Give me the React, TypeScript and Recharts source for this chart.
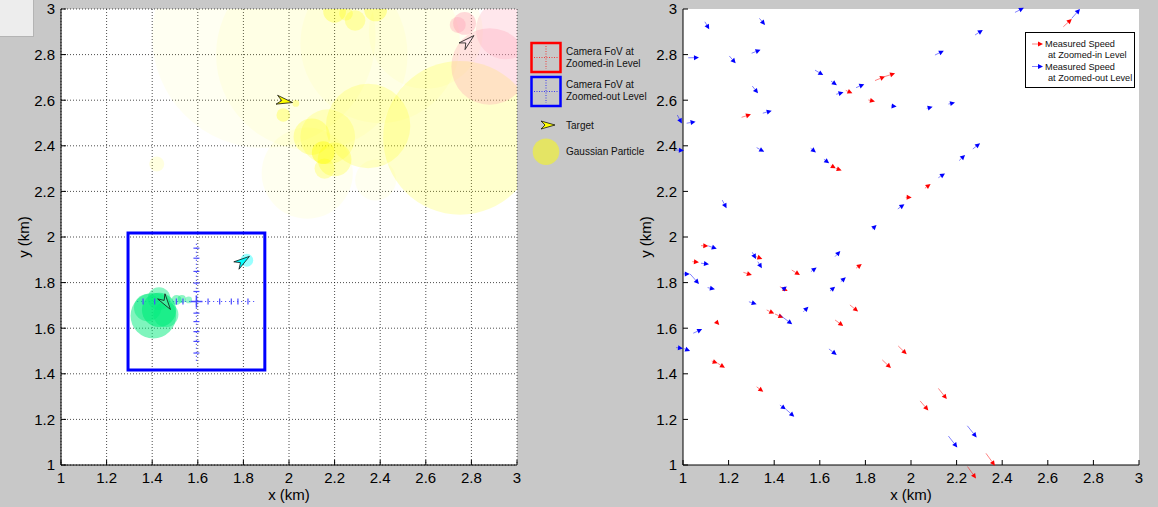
import React from "react";
import {
  ScatterChart,
  Scatter,
  XAxis,
  YAxis,
  CartesianGrid,
  ReferenceArea,
  ReferenceLine,
  Legend,
} from "recharts";

const TICKS = [1, 1.2, 1.4, 1.6, 1.8, 2, 2.2, 2.4, 2.6, 2.8, 3];
const DOMAIN: [number, number] = [1, 3];

// particles: [x (km), y (km), radius (km), weight]
const YELLOW_PARTICLES = [
  [1.89, 2.88, 0.49, 0.05],
  [2.1, 2.8, 0.42, 0.05],
  [2.4, 2.85, 0.35, 0.05],
  [2.6, 2.9, 0.25, 0.05],
  [2.08, 2.28, 0.2, 0.06],
  [2.38, 2.25, 0.09, 0.06],
  [2.75, 2.435, 0.337, 0.2],
  [2.347, 2.487, 0.185, 0.2],
  [2.17, 2.44, 0.12, 0.18],
  [2.1, 2.44, 0.08, 0.25],
  [2.2, 2.34, 0.074, 0.25],
  [2.156, 2.3, 0.044, 0.25],
  [2.15, 2.37, 0.05, 0.4],
  [2.2, 2.99, 0.05, 0.3],
  [2.29, 2.95, 0.045, 0.25],
  [2.38, 2.996, 0.05, 0.3],
  [2.25, 2.98, 0.03, 0.25],
  [1.975, 2.535, 0.03, 0.3],
  [2.03, 2.586, 0.015, 0.3],
  [1.42, 2.32, 0.033, 0.12],
];
const PINK_PARTICLES = [
  [2.88, 2.748, 0.168, 0.3],
  [2.95, 2.91, 0.13, 0.25],
  [2.77, 2.937, 0.05, 0.4],
  [2.74, 2.93, 0.035, 0.35],
];
const GREEN_PARTICLES = [
  [1.405, 1.655, 0.1, 0.5],
  [1.43, 1.68, 0.075, 0.6],
  [1.43, 1.73, 0.05, 0.45],
  [1.46, 1.66, 0.055, 0.45],
  [1.38, 1.69, 0.06, 0.45],
  [1.507, 1.724, 0.022, 0.45],
  [1.53, 1.728, 0.018, 0.45],
  [1.56, 1.724, 0.015, 0.4],
];
const CYAN_PARTICLES = [[1.815, 1.898, 0.028, 0.4]];

// targets: [x, y, heading (deg)]
const TARGET_YELLOW = [1.981, 2.596, -10];
const TARGET_PINK = [2.785, 2.86, 42];
const TARGET_CYAN = [1.798, 1.895, 35];
const TARGET_GREEN = [1.46, 1.711, -55];

// zoomed-out camera field of view
const FOV_CENTER = [1.594, 1.717];
const FOV_SIZE = 0.6;
const FOV_CROSS_HALF = 0.26;
const FOV_TICKS_X = [-0.234, -0.183, -0.088, -0.059, 0.051, 0.102, 0.153, 0.182, 0.226];
const FOV_TICKS_Y = [0.234, 0.19, 0.132, 0.081, 0.044, -0.051, -0.088, -0.132, -0.175, -0.226];

// measured speeds: [x, y, u, v] (km)
const RED_ARROWS = [
  [1.257, 2.525, 0.041, 0.013],
  [1.648, 2.314, 0.022, -0.013],
  [1.671, 2.301, 0.025, -0.009],
  [1.714, 2.643, 0.029, -0.013],
  [1.842, 2.686, 0.044, 0.018],
  [1.883, 2.703, 0.047, 0.015],
  [1.813, 2.601, 0.029, -0.007],
  [1.977, 2.174, 0.026, -0.001],
  [2.668, 2.922, 0.037, 0.034],
  [2.061, 2.214, 0.025, 0.018],
  [1.079, 1.962, 0.032, -0.001],
  [1.041, 1.892, 0.029, -0.003],
  [1.32, 1.914, 0.028, -0.01],
  [1.265, 1.845, 0.037, -0.012],
  [1.477, 1.855, 0.036, -0.022],
  [1.759, 1.863, 0.025, 0.019],
  [1.425, 1.782, 0.034, -0.019],
  [1.367, 1.68, 0.033, -0.016],
  [1.404, 1.662, 0.036, -0.016],
  [1.732, 1.702, 0.036, -0.029],
  [1.667, 1.636, 0.036, -0.026],
  [1.148, 1.626, 0.011, -0.012],
  [1.126, 1.456, 0.026, -0.01],
  [1.152, 1.446, 0.032, -0.019],
  [1.874, 1.461, 0.038, -0.036],
  [1.944, 1.522, 0.037, -0.036],
  [1.323, 1.343, 0.029, -0.022],
  [2.12, 1.336, 0.037, -0.047],
  [2.04, 1.281, 0.036, -0.042],
  [2.329, 1.051, 0.039, -0.054],
  [2.248, 0.993, 0.037, -0.052],
];
const BLUE_ARROWS = [
  [1.096, 2.944, 0.019, -0.033],
  [1.335, 2.959, 0.025, -0.029],
  [1.023, 2.786, 0.047, 0.001],
  [1.203, 2.794, 0.028, -0.032],
  [1.301, 2.806, 0.039, 0.015],
  [1.304, 2.662, 0.025, -0.032],
  [1.35, 2.543, 0.039, 0.011],
  [0.975, 2.535, 0.02, -0.037],
  [1.016, 2.499, 0.039, 0.007],
  [0.968, 2.382, 0.036, -0.003],
  [1.323, 2.392, 0.033, -0.018],
  [1.56, 2.389, 0.023, -0.018],
  [1.618, 2.341, 0.023, -0.018],
  [1.579, 2.732, 0.036, -0.022],
  [1.649, 2.684, 0.026, -0.018],
  [1.672, 2.626, 0.032, 0.009],
  [1.759, 2.655, 0.036, 0.015],
  [1.912, 2.575, 0.025, -0.003],
  [1.172, 2.162, 0.019, -0.036],
  [1.942, 2.123, 0.029, 0.021],
  [1.83, 2.035, 0.019, 0.018],
  [2.456, 2.985, 0.039, 0.02],
  [2.705, 2.959, 0.036, 0.041],
  [2.281, 2.886, 0.034, 0.022],
  [2.105, 2.798, 0.039, 0.019],
  [2.069, 2.564, 0.026, 0.007],
  [2.164, 2.583, 0.029, 0.007],
  [2.271, 2.386, 0.032, 0.025],
  [2.211, 2.335, 0.026, 0.025],
  [2.12, 2.26, 0.029, 0.019],
  [1.111, 1.961, 0.037, -0.013],
  [1.079, 1.885, 0.035, -0.004],
  [1.001, 1.838, 0.029, 0],
  [1.031, 1.838, 0.039, -0.044],
  [1.108, 1.778, 0.032, -0.007],
  [1.304, 1.933, 0.016, -0.029],
  [1.328, 1.892, 0.018, -0.029],
  [1.561, 1.848, 0.025, 0.018],
  [1.667, 1.914, 0.023, 0.025],
  [1.692, 1.804, 0.022, 0.019],
  [1.645, 1.763, 0.022, 0.019],
  [1.436, 1.768, 0.019, 0.015],
  [1.289, 1.716, 0.034, -0.011],
  [1.421, 1.661, 0.058, -0.044],
  [1.528, 1.672, 0.022, 0.022],
  [1.045, 1.578, 0.039, 0.018],
  [0.97, 1.515, 0.03, -0.004],
  [1.005, 1.51, 0.026, -0.01],
  [1.64, 1.509, 0.034, -0.026],
  [1.425, 1.263, 0.026, -0.019],
  [1.452, 1.244, 0.036, -0.032],
  [2.247, 1.172, 0.041, -0.051],
  [2.164, 1.127, 0.039, -0.05],
];

// chart geometry
const W = 530;
const H = 507;
const MARGIN = { top: 9, right: 13, bottom: 2, left: 11 };
const Y_AXIS_W = 50;
const X_AXIS_H = 40;
const PX_PER_KM = (W - MARGIN.left - MARGIN.right - Y_AXIS_W) / (DOMAIN[1] - DOMAIN[0]);

const FONT = "'Liberation Sans', Arial, Helvetica, sans-serif";
const TICK_STYLE = { fill: "#000", fontSize: 15 };

const toParticles = (rows: number[][]) => rows.map(([x, y, r, w]) => ({ x, y, r, w }));
const toArrows = (rows: number[][]) => rows.map(([x, y, u, v]) => ({ x, y, u, v }));
const toTarget = ([x, y, heading]: number[]) => [{ x, y, heading }];

const fovTicks = [
  ...FOV_TICKS_X.map((d) => ({ x: FOV_CENTER[0] + d, y: FOV_CENTER[1], vertical: true })),
  ...FOV_TICKS_Y.map((d) => ({ x: FOV_CENTER[0], y: FOV_CENTER[1] + d, vertical: false })),
];

const particleShape = (fill: string) => (p: any) =>
  <circle cx={p.cx} cy={p.cy} r={p.payload.r * PX_PER_KM} fill={fill} fillOpacity={p.payload.w} />;

const dartShape = (fill: string, fillOpacity = 1) => (p: any) => {
  const a = (p.payload.heading * Math.PI) / 180;
  const c = Math.cos(a);
  const s = Math.sin(a);
  const pts = [[8, 0], [-8, -4.5], [-3, 0], [-8, 4.5]]
    .map(([u, v]) => `${p.cx + u * c + v * s},${p.cy - u * s + v * c}`)
    .join(" ");
  return <polygon points={pts} fill={fill} fillOpacity={fillOpacity} stroke="#111" strokeWidth={0.8} />;
};

const FovTick = (p: any) =>
  p.payload.vertical ? (
    <line x1={p.cx} x2={p.cx} y1={p.cy - 3} y2={p.cy + 3} stroke="#4a4aff" strokeWidth={1.2} />
  ) : (
    <line x1={p.cx - 3} x2={p.cx + 3} y1={p.cy} y2={p.cy} stroke="#4a4aff" strokeWidth={1.2} />
  );

const FovCenter = (p: any) => (
  <g stroke="#4a4aff" strokeWidth={1.5}>
    <line x1={p.cx - 6} x2={p.cx + 6} y1={p.cy} y2={p.cy} />
    <line x1={p.cx} x2={p.cx} y1={p.cy - 6} y2={p.cy + 6} />
  </g>
);

const arrowPath = (x0: number, y0: number, x1: number, y1: number, color: string) => {
  const ang = Math.atan2(y1 - y0, x1 - x0);
  const c = Math.cos(ang);
  const s = Math.sin(ang);
  const hl = 5;
  const hw = 2.5;
  const bx = x1 - hl * c;
  const by = y1 - hl * s;
  return (
    <g>
      <line x1={x0} y1={y0} x2={bx} y2={by} stroke={color} strokeWidth={0.9} strokeOpacity={0.55} />
      <polygon
        points={`${x1},${y1} ${bx - hw * s},${by + hw * c} ${bx + hw * s},${by - hw * c}`}
        fill={color}
      />
    </g>
  );
};

const arrowShape = (color: string) => (p: any) =>
  arrowPath(p.cx, p.cy, p.cx + p.payload.u * PX_PER_KM, p.cy - p.payload.v * PX_PER_KM, color);

const AxisTitle = ({ viewBox, text, vertical }: any) => {
  if (!viewBox) return null;
  const { x, y, width, height } = viewBox;
  if (vertical) {
    const cx = x + 13;
    const cy = y + height / 2;
    return (
      <text x={cx} y={cy} dy="0.35em" textAnchor="middle" fontSize={15} fill="#000" transform={`rotate(-90 ${cx} ${cy})`}>
        {text}
      </text>
    );
  }
  return (
    <text x={x + width / 2} y={y + 35} textAnchor="middle" fontSize={15} fill="#000">
      {text}
    </text>
  );
};

const FovIcon = ({ y, color }: { y: number; color: string }) => (
  <g>
    <rect x={4.5} y={y} width={29} height={29} fill="none" stroke={color} strokeWidth={2.5} />
    <line x1={19} x2={19} y1={y + 3} y2={y + 26} stroke={color} strokeDasharray="1 1.5" strokeOpacity={0.7} />
    <line x1={7} x2={31} y1={y + 14.5} y2={y + 14.5} stroke={color} strokeDasharray="1 1.5" strokeOpacity={0.7} />
  </g>
);

const ParticleLegend = () => (
  <svg width={135} height={130} style={{ fontSize: 10, fontFamily: FONT }}>
    <FovIcon y={5} color="#ff0000" />
    <text x={39} y={16.6} fill="#111">Camera FoV at</text>
    <text x={39} y={29} fill="#111">Zoomed-in Level</text>
    <FovIcon y={39} color="#0000ff" />
    <text x={39} y={49.6} fill="#111">Camera FoV at</text>
    <text x={39} y={62.3} fill="#111">Zoomed-out Level</text>
    <polygon points="28,87 14,83 18,87 14,91" fill="#ffff00" stroke="#111" strokeWidth={0.8} />
    <text x={39} y={90.6} fill="#111">Target</text>
    <circle cx={19} cy={113.7} r={13.3} fill="#ffff00" fillOpacity={0.5} />
    <text x={39} y={117.3} fill="#111">Gaussian Particle</text>
  </svg>
);

const SpeedLegend = () => (
  <svg width={110} height={56} style={{ fontSize: 9.2, fontFamily: FONT, display: "block" }}>
    <rect x={0.5} y={0.5} width={109} height={55} fill="#fff" stroke="#000" />
    {arrowPath(7, 12, 18, 12, "#ff0000")}
    <text x={20} y={15.4} fill="#111">Measured Speed</text>
    <text x={23} y={26.4} fill="#111">at Zoomed-in Level</text>
    {arrowPath(7, 34.5, 18, 34.5, "#0000ff")}
    <text x={20} y={38} fill="#111">Measured Speed</text>
    <text x={23} y={49.2} fill="#111">at Zoomed-out Level</text>
  </svg>
);

function axes(grid: boolean) {
  return [
    <CartesianGrid
      key="grid"
      horizontal={grid}
      vertical={grid}
      stroke="#000"
      strokeOpacity={0.7}
      strokeDasharray="1 2"
      fill="#fff"
      fillOpacity={1}
    />,
    <XAxis
      key="x"
      type="number"
      dataKey="x"
      domain={DOMAIN}
      ticks={TICKS}
      interval={0}
      allowDataOverflow
      height={X_AXIS_H}
      tickSize={-5}
      tickMargin={12}
      tick={TICK_STYLE}
      stroke="#000"
      label={<AxisTitle text="x (km)" />}
    />,
    <XAxis
      key="xt"
      xAxisId="top"
      orientation="top"
      type="number"
      domain={DOMAIN}
      ticks={TICKS}
      interval={0}
      allowDataOverflow
      height={0}
      tickSize={-5}
      tick={false}
      stroke="#000"
    />,
    <YAxis
      key="y"
      type="number"
      dataKey="y"
      domain={DOMAIN}
      ticks={TICKS}
      interval={0}
      allowDataOverflow
      width={Y_AXIS_W}
      tickSize={-5}
      tickMargin={11}
      tick={TICK_STYLE}
      stroke="#000"
      label={<AxisTitle text="y (km)" vertical />}
    />,
    <YAxis
      key="yr"
      yAxisId="right"
      orientation="right"
      type="number"
      domain={DOMAIN}
      ticks={TICKS}
      interval={0}
      allowDataOverflow
      width={0}
      tickSize={-5}
      tick={false}
      stroke="#000"
    />,
  ];
}

export default function App() {
  return (
    <div
      style={{
        position: "relative",
        width: 1158,
        height: 507,
        background: "#c8c8c8",
        overflow: "hidden",
        fontFamily: FONT,
      }}
    >
      <style>{"body{margin:0} .quiver-chart .recharts-scatter{clip-path:none}"}</style>
      <div
        style={{
          position: "absolute",
          left: 0,
          top: 0,
          width: 33,
          height: 36,
          background: "#ededed",
          borderRight: "1px solid #b4b4b4",
          borderBottom: "1px solid #b4b4b4",
        }}
      />
      <div style={{ position: "absolute", left: 0, top: 0 }}>
        <ScatterChart width={W} height={H} margin={MARGIN}>
          {axes(true)}
          <Scatter data={toParticles(YELLOW_PARTICLES)} shape={particleShape("#ffff00")} isAnimationActive={false} />
          <Scatter data={toParticles(PINK_PARTICLES)} shape={particleShape("#ff9fb4")} isAnimationActive={false} />
          <Scatter data={toParticles(GREEN_PARTICLES)} shape={particleShape("#00ec7c")} isAnimationActive={false} />
          <Scatter data={toParticles(CYAN_PARTICLES)} shape={particleShape("#00ffff")} isAnimationActive={false} />
          <ReferenceArea
            x1={FOV_CENTER[0] - FOV_SIZE / 2}
            x2={FOV_CENTER[0] + FOV_SIZE / 2}
            y1={FOV_CENTER[1] - FOV_SIZE / 2}
            y2={FOV_CENTER[1] + FOV_SIZE / 2}
            fill="none"
            fillOpacity={0}
            stroke="#0000ff"
            strokeWidth={3}
          />
          <ReferenceLine
            segment={[
              { x: FOV_CENTER[0] - FOV_CROSS_HALF, y: FOV_CENTER[1] },
              { x: FOV_CENTER[0] + FOV_CROSS_HALF, y: FOV_CENTER[1] },
            ]}
            stroke="#3a3aff"
            strokeDasharray="1 3"
            strokeWidth={1.2}
          />
          <ReferenceLine
            segment={[
              { x: FOV_CENTER[0], y: FOV_CENTER[1] - FOV_CROSS_HALF },
              { x: FOV_CENTER[0], y: FOV_CENTER[1] + FOV_CROSS_HALF },
            ]}
            stroke="#3a3aff"
            strokeDasharray="1 3"
            strokeWidth={1.2}
          />
          <Scatter data={fovTicks} shape={FovTick} isAnimationActive={false} />
          <Scatter data={[{ x: FOV_CENTER[0], y: FOV_CENTER[1] }]} shape={FovCenter} isAnimationActive={false} />
          <Scatter data={toTarget(TARGET_YELLOW)} shape={dartShape("#ffff00")} isAnimationActive={false} />
          <Scatter data={toTarget(TARGET_PINK)} shape={dartShape("#ffe4ea")} isAnimationActive={false} />
          <Scatter data={toTarget(TARGET_CYAN)} shape={dartShape("#00ffff")} isAnimationActive={false} />
          <Scatter data={toTarget(TARGET_GREEN)} shape={dartShape("#7ff5be", 0.4)} isAnimationActive={false} />
          <Legend
            layout="horizontal"
            verticalAlign="middle"
            align="center"
            wrapperStyle={{ left: 527, top: 38, width: 135, height: 130 }}
            content={() => <ParticleLegend />}
          />
        </ScatterChart>
      </div>
      <div className="quiver-chart" style={{ position: "absolute", left: 622, top: 0 }}>
        <ScatterChart width={W} height={H} margin={MARGIN}>
          {axes(false)}
          <Scatter data={toArrows(RED_ARROWS)} shape={arrowShape("#ff0000")} isAnimationActive={false} />
          <Scatter data={toArrows(BLUE_ARROWS)} shape={arrowShape("#0000ff")} isAnimationActive={false} />
          <Legend
            layout="horizontal"
            verticalAlign="middle"
            align="center"
            wrapperStyle={{ left: 403, top: 32, width: 110, height: 56 }}
            content={() => <SpeedLegend />}
          />
        </ScatterChart>
      </div>
    </div>
  );
}
